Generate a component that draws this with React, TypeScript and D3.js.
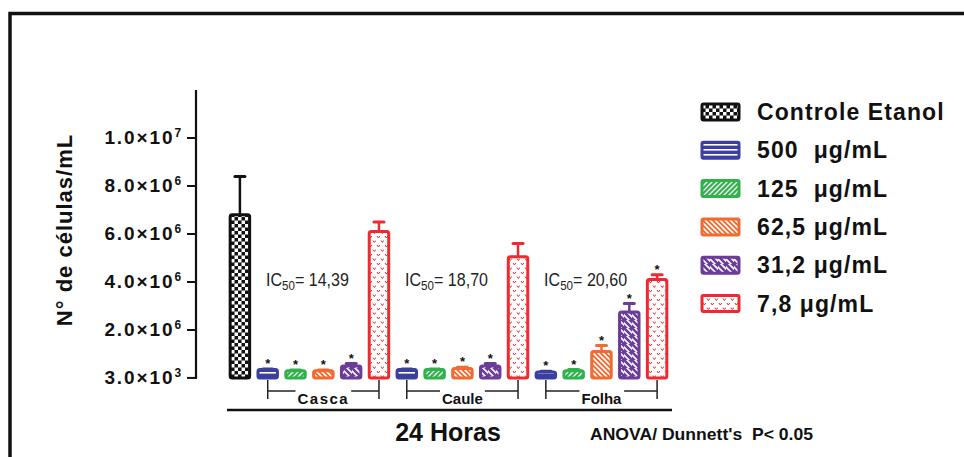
import { useEffect, useRef } from "react";
import * as d3 from "d3";

// data
const groups = ["Casca", "Caule", "Folha"];
const series = ["500  μg/mL", "125  μg/mL", "62,5 μg/mL", "31,2 μg/mL", "7,8 μg/mL"];
const seriesColors = ["#3b3f9e", "#2fb24c", "#f26a2f", "#6b3c98", "#ee2a30"];
const controlLabel = "Controle Etanol";
const controlValue = 6.8e6;
const controlError = 1.6e6;
const cascaValues = [0.35e6, 0.3e6, 0.3e6, 0.5e6, 6.1e6];
const cascaErrors = [0.03e6, 0.03e6, 0.03e6, 0.1e6, 0.4e6];
const cauleValues = [0.35e6, 0.35e6, 0.4e6, 0.5e6, 5.05e6];
const cauleErrors = [0.03e6, 0.03e6, 0.05e6, 0.1e6, 0.55e6];
const folhaValues = [0.25e6, 0.3e6, 1.1e6, 2.75e6, 4.1e6];
const folhaErrors = [0.03e6, 0.05e6, 0.25e6, 0.35e6, 0.2e6];
const cascaStars = [true, true, true, true, false];
const cauleStars = [true, true, true, true, false];
const folhaStars = [true, true, true, true, true];
const ic50Labels = ["14,39", "18,70", "20,60"];
const yTicks = [3e3, 2e6, 4e6, 6e6, 8e6, 1e7];
const yTickLabels = [["3.0×10", "3"], ["2.0×10", "6"], ["4.0×10", "6"], ["6.0×10", "6"], ["8.0×10", "6"], ["1.0×10", "7"]];

const Chart = () => {
  const ref = useRef<SVGSVGElement>(null);

  useEffect(() => {
    const svg = d3.select(ref.current);
    svg.selectAll("*").remove();
    const font = "Arial, 'Liberation Sans', sans-serif";
    const narrow = "'Liberation Sans Narrow', 'Arial Narrow', Arial, sans-serif";

    const defs = svg.append("defs");
    // checker for the control
    const chk = defs.append("pattern").attr("id", "p-chk").attr("patternUnits", "userSpaceOnUse")
      .attr("width", 7).attr("height", 7);
    chk.append("rect").attr("width", 7).attr("height", 7).attr("fill", "#111");
    chk.append("rect").attr("width", 3.5).attr("height", 3.5).attr("fill", "#fff");
    chk.append("rect").attr("x", 3.5).attr("y", 3.5).attr("width", 3.5).attr("height", 3.5).attr("fill", "#fff");

    // series fills
    const mk = (id, size, bg, draw) => {
      const p = defs.append("pattern").attr("id", id).attr("patternUnits", "userSpaceOnUse")
        .attr("width", size[0]).attr("height", size[1]);
      p.append("rect").attr("width", size[0]).attr("height", size[1]).attr("fill", bg);
      draw(p);
    };
    mk("p-0", [6, 5], seriesColors[0], (p) =>
      p.append("rect").attr("y", 2).attr("width", 6).attr("height", 1.6).attr("fill", "#fff"));
    mk("p-1", [5, 5], seriesColors[1], (p) =>
      p.append("path").attr("d", "M-1,6 L6,-1 M-1,1 L1,-1 M4,6 L6,4").attr("stroke", "#fff").attr("stroke-width", 1.3));
    mk("p-2", [5, 5], seriesColors[2], (p) =>
      p.append("path").attr("d", "M-1,-1 L6,6 M4,-1 L6,1 M-1,4 L1,6").attr("stroke", "#fff").attr("stroke-width", 1.6));
    mk("p-3", [8, 8], "#fff", (p) =>
      p.append("path").attr("d", "M-1,-1 L9,9 M5,-1 L9,3 M-1,5 L3,9").attr("stroke", seriesColors[3]).attr("stroke-width", 2.6));
    mk("p-4", [8, 9], "#fff", (p) => {
      p.append("path").attr("d", "M1,2 l1.4,2 l1.4,-2 M5,6.5 l1.4,2 l1.4,-2").attr("stroke", seriesColors[4])
        .attr("stroke-width", 1).attr("fill", "none");
    });

    // frame
    svg.append("path").attr("d", "M10,457 V13.5 H964").attr("fill", "none").attr("stroke", "#111").attr("stroke-width", 3.5);

    const y = d3.scaleLinear().domain([0, 12e6]).range([378, 90]);
    const groupValues = [cascaValues, cauleValues, folhaValues];
    const groupErrors = [cascaErrors, cauleErrors, folhaErrors];
    const groupStars = [cascaStars, cauleStars, folhaStars];

    const bars = [{ key: "ctrl", value: controlValue, err: controlError, fill: "url(#p-chk)", color: "#111", star: false, g: -1, s: -1 }];
    groups.forEach((g, gi) => {
      series.forEach((s, si) => {
        bars.push({ key: g + si, value: groupValues[gi][si], err: groupErrors[gi][si], fill: `url(#p-${si})`,
          color: seriesColors[si], star: groupStars[gi][si], g: gi, s: si });
      });
    });

    const x = d3.scaleBand().domain(bars.map((b) => b.key)).range([226, 671]).paddingInner(0.3).paddingOuter(0.15);
    const bw = x.bandwidth();

    // y axis
    const yAxis = svg.append("g").attr("transform", "translate(196,0)");
    yAxis.append("line").attr("y1", 90).attr("y2", y(0) + 1).attr("stroke", "#111").attr("stroke-width", 2.2);
    yTicks.forEach((t, i) => {
      const ty = y(t);
      yAxis.append("line").attr("x1", -9).attr("x2", 0).attr("y1", ty).attr("y2", ty).attr("stroke", "#111").attr("stroke-width", 2);
      const txt = yAxis.append("text").attr("x", -13).attr("y", ty + 6).attr("text-anchor", "end")
        .style("font-family", font).style("font-weight", "bold").style("font-size", "19px")
        .style("letter-spacing", "1.9px").attr("fill", "#111");
      txt.append("tspan").text(yTickLabels[i][0]);
      txt.append("tspan").attr("dy", -7).style("font-size", "12px").text(yTickLabels[i][1]);
    });
    svg.append("text").attr("transform", "translate(72,230) rotate(-90)").attr("text-anchor", "middle")
      .style("font-family", font).style("font-weight", "bold").style("font-size", "22px")
      .style("letter-spacing", "1px").attr("fill", "#111")
      .text("N° de células/mL");

    // bars
    bars.forEach((b) => {
      const bx = x(b.key);
      const top = y(b.value);
      const cx = bx + bw / 2;
      if (b.err > 0) {
        const et = y(b.value + b.err);
        svg.append("line").attr("x1", cx).attr("x2", cx).attr("y1", top).attr("y2", et).attr("stroke", b.color).attr("stroke-width", 2.5);
        svg.append("line").attr("x1", cx - 5).attr("x2", cx + 5).attr("y1", et).attr("y2", et).attr("stroke", b.color).attr("stroke-width", 3).attr("stroke-linecap", "round");
      }
      svg.append("rect").attr("x", bx).attr("y", top).attr("width", bw).attr("height", y(0) - top)
        .attr("rx", 2).attr("fill", b.fill).attr("stroke", b.color).attr("stroke-width", 3);
      if (b.star) {
        svg.append("text").attr("x", cx).attr("y", y(b.value + b.err) - 1).attr("text-anchor", "middle")
          .style("font-family", font).style("font-weight", "bold").style("font-size", "13px").attr("fill", "#111").text("*");
      }
    });

    // IC50 labels, squeezed to the width seen in the picture
    groups.forEach((g, gi) => {
      const lx = x(g + "0") + 8;
      const holder = svg.append("g");
      const t = holder.append("text").attr("x", 0).attr("y", 0).style("font-family", narrow)
        .style("font-size", "18px").attr("fill", "#222");
      t.append("tspan").text("IC");
      t.append("tspan").attr("dy", 4).style("font-size", "13px").text("50");
      t.append("tspan").attr("dy", -4).text("= " + ic50Labels[gi]);
      const w = (t.node() as SVGTextElement).getBBox().width || 83;
      holder.attr("transform", `translate(${lx},286) scale(${83 / w},1)`);
    });

    // group brackets
    groups.forEach((g, gi) => {
      const x0 = x(g + "0") + bw / 2;
      const x1 = x(g + "4") + bw / 2;
      const br = svg.append("g").attr("stroke", "#222").attr("stroke-width", 1.5);
      br.append("line").attr("x1", x0).attr("x2", x1).attr("y1", 391).attr("y2", 391);
      br.append("line").attr("x1", x0).attr("x2", x0).attr("y1", 380).attr("y2", 399);
      br.append("line").attr("x1", x1).attr("x2", x1).attr("y1", 380).attr("y2", 399);
      const lg = svg.append("g");
      const bg = lg.append("rect").attr("fill", "#fff");
      const lbl = lg.append("text").attr("x", (x0 + x1) / 2).attr("y", 404).attr("text-anchor", "middle")
        .style("font-family", font).style("font-weight", "bold").style("font-size", "15px")
        .style("letter-spacing", g === "Casca" ? "1.5px" : "0px").attr("fill", "#111").text(g);
      const bb = (lbl.node() as SVGTextElement).getBBox();
      bg.attr("x", bb.x - 2).attr("y", bb.y).attr("width", bb.width + 4).attr("height", bb.height);
    });

    // x axis line
    svg.append("line").attr("x1", 227).attr("x2", 672).attr("y1", 410).attr("y2", 410).attr("stroke", "#111").attr("stroke-width", 2.5);
    svg.append("text").attr("x", 448).attr("y", 441).attr("text-anchor", "middle").style("font-family", font)
      .style("font-weight", "bold").style("font-size", "25px").attr("fill", "#111").text("24 Horas");
    svg.append("text").attr("x", 590).attr("y", 440).style("font-family", narrow)
      .style("font-weight", "bold").style("font-size", "17px").style("white-space", "pre")
      .attr("textLength", 223).attr("lengthAdjust", "spacingAndGlyphs").attr("fill", "#111")
      .text("ANOVA/ Dunnett's  P< 0.05");

    // legend
    const legendItems = [{ label: controlLabel, fill: "url(#p-chk)", color: "#111" }]
      .concat(series.map((s, i) => ({ label: s, fill: `url(#p-${i})`, color: seriesColors[i] })));
    const lg = svg.append("g").attr("transform", "translate(702,112)");
    legendItems.forEach((it, i) => {
      const ly = i * 38.3;
      lg.append("rect").attr("x", 0).attr("y", ly - 8).attr("width", 37).attr("height", 16).attr("rx", 1.5)
        .attr("fill", it.fill).attr("stroke", it.color).attr("stroke-width", 3);
      lg.append("text").attr("x", 55).attr("y", ly + 8).style("font-family", font).style("font-weight", "bold")
        .style("font-size", "23px").style("letter-spacing", "1.1px").style("white-space", "pre")
        .attr("fill", "#111").text(it.label);
    });
  }, []);

  return <svg ref={ref} width={964} height={457} style={{ position: "absolute", left: 0, top: 0, background: "#fff" }} />;
};

export default function App() {
  return <Chart />;
}
